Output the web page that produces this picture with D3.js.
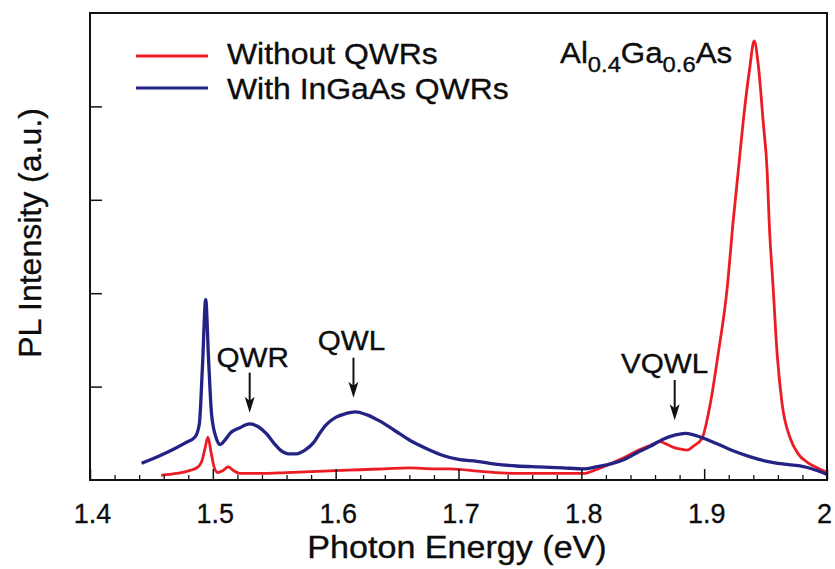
<!DOCTYPE html>
<html>
<head>
<meta charset="utf-8">
<script src="https://cdn.jsdelivr.net/npm/d3@7"></script>
<style>
  html, body { margin: 0; padding: 0; background: #fff; }
  svg { display: block; }
  text { font-family: "Liberation Sans", Arial, Helvetica, sans-serif; fill: #0d0d0d; }
</style>
</head>
<body>
<svg id="chart" width="835" height="569"></svg>
<script>
// ---- Data ----
const withQWRsX = [1.442,1.455,1.468,1.478,1.4855,1.489,1.4915,1.4942,1.4965,1.499,1.503,1.506,1.510,1.514,1.522,1.530,1.537,1.544,1.550,1.555,1.562,1.568,1.575,1.582,1.588,1.593,1.600,1.608,1.616,1.625,1.636,1.648,1.661,1.675,1.688,1.700,1.715,1.730,1.7475,1.765,1.785,1.802,1.812,1.823,1.835,1.845,1.856,1.867,1.876,1.8845,1.892,1.899,1.910,1.924,1.937,1.951,1.965,1.978,1.990,2.000];
const withQWRsY = [0.18,0.25,0.33,0.40,0.46,0.60,1.20,1.93,1.30,0.70,0.44,0.38,0.43,0.50,0.56,0.60,0.57,0.49,0.39,0.32,0.28,0.28,0.32,0.40,0.52,0.60,0.67,0.71,0.73,0.70,0.63,0.53,0.42,0.33,0.26,0.22,0.20,0.17,0.15,0.14,0.13,0.12,0.14,0.17,0.22,0.29,0.36,0.44,0.48,0.50,0.48,0.45,0.39,0.31,0.25,0.20,0.17,0.15,0.11,0.06];

const withoutQWRsX = [1.458,1.470,1.481,1.488,1.491,1.4935,1.496,1.4985,1.501,1.504,1.508,1.5125,1.517,1.522,1.540,1.560,1.580,1.600,1.620,1.640,1.660,1.680,1.693,1.720,1.7475,1.775,1.802,1.812,1.823,1.835,1.845,1.856,1.864,1.870,1.875,1.881,1.886,1.891,1.8984,1.9049,1.9114,1.9187,1.9236,1.9277,1.9318,1.937,1.9407,1.944,1.948,1.9513,1.9529,1.9562,1.9594,1.9635,1.970,1.9765,1.984,1.992,2.000];
const withoutQWRsY = [0.05,0.07,0.10,0.14,0.20,0.33,0.46,0.30,0.14,0.08,0.10,0.14,0.10,0.07,0.07,0.08,0.09,0.10,0.11,0.12,0.13,0.12,0.12,0.09,0.07,0.07,0.07,0.11,0.17,0.24,0.31,0.37,0.41,0.38,0.35,0.33,0.32,0.36,0.45,0.81,1.35,2.05,2.77,3.30,3.84,4.40,4.70,4.45,3.84,3.30,2.77,2.05,1.35,0.81,0.45,0.28,0.19,0.13,0.08];

const xTickValues = [1.4,1.5,1.6,1.7,1.8,1.9,2.0];
const xTickLabels = ["1.4","1.5","1.6","1.7","1.8","1.9","2"];
const yTickValues = [1,2,3,4];

const seriesNames = ["Without QWRs","With InGaAs QWRs"];
const seriesColors = ["#ec1c24","#232385"];

const annotations = [
  {label:"QWR",  x:1.530,  yTop:1.15, yBot:0.72, ty:1.21, dx:3},
  {label:"QWL",  x:1.6145, yTop:1.31, yBot:0.88, ty:1.39, dx:-2},
  {label:"VQWL", x:1.876,  yTop:1.07, yBot:0.64, ty:1.15, dx:-10}
];

// ---- Layout ----
const svg = d3.select("#chart");
const mLeft = 90, mRight = 827, mTop = 13, mBottom = 480;

const x = d3.scaleLinear().domain([1.4, 2.0]).range([mLeft, mRight]);
const y = d3.scaleLinear().domain([0, 5]).range([mBottom, mTop]);

// helper: text with a slight horizontal stretch (as in the scanned original)
function stretchedText(px, py, size, sx, anchor, str) {
  return svg.append("text")
    .attr("transform", `translate(${px},${py}) scale(${sx},1)`)
    .attr("text-anchor", anchor || "start")
    .attr("font-size", size)
    .attr("stroke", "#0d0d0d").attr("stroke-width", 0.35)
    .text(str);
}

// curves
const line = d3.line().x(d => x(d[0])).y(d => y(d[1])).curve(d3.curveMonotoneX);
const blueData = withQWRsX.map((v,i) => [v, withQWRsY[i]]);
const redData = withoutQWRsX.map((v,i) => [v, withoutQWRsY[i]]);

svg.append("path").datum(redData).attr("d", line)
  .attr("fill","none").attr("stroke",seriesColors[0]).attr("stroke-width",2.8).attr("stroke-linejoin","round");
svg.append("path").datum(blueData).attr("d", line)
  .attr("fill","none").attr("stroke",seriesColors[1]).attr("stroke-width",3.3).attr("stroke-linejoin","round");

// frame
svg.append("rect").attr("x",mLeft).attr("y",mTop).attr("width",mRight-mLeft).attr("height",mBottom-mTop)
  .attr("fill","none").attr("stroke","#111").attr("stroke-width",2);

// x axis ticks (inward)
const xAxis = d3.axisBottom(x).tickValues(xTickValues)
  .tickFormat((d,i) => xTickLabels[i]).tickSize(-11).tickPadding(24);
const gx = svg.append("g").attr("transform",`translate(0,${mBottom})`).call(xAxis);
gx.select(".domain").remove();
gx.selectAll(".tick line").attr("stroke","#111").attr("stroke-width",1.5);
gx.selectAll(".tick text").attr("font-size",27).attr("fill","#0d0d0d")
  .attr("stroke","#0d0d0d").attr("stroke-width",0.3)
  .attr("dx",(d,i) => i === xTickValues.length - 1 ? -3 : 2)
  .attr("font-family","'Liberation Sans', Arial, sans-serif");

const minorTicks = d3.range(1.42, 2.0, 0.02).filter(v => Math.abs(v*10 - Math.round(v*10)) > 0.01);
const xMinor = d3.axisBottom(x).tickValues(minorTicks).tickFormat("").tickSize(-5);
const gxm = svg.append("g").attr("transform",`translate(0,${mBottom})`).call(xMinor);
gxm.select(".domain").remove();
gxm.selectAll(".tick line").attr("stroke","#111").attr("stroke-width",1.3);

// y axis ticks (inward, no labels)
const yAxis = d3.axisLeft(y).tickValues(yTickValues).tickFormat("").tickSize(-12);
const gy = svg.append("g").attr("transform",`translate(${mLeft},0)`).call(yAxis);
gy.select(".domain").remove();
gy.selectAll(".tick line").attr("stroke","#111").attr("stroke-width",1.5);

// axis titles
stretchedText(457, 558, 31, 1.1, "middle", "Photon Energy (eV)");
svg.append("text").attr("transform","translate(41,233) rotate(-90)").attr("text-anchor","middle")
  .attr("stroke","#0d0d0d").attr("stroke-width",0.35)
  .attr("font-size",32).text("PL Intensity (a.u.)");

// legend
seriesNames.forEach((name,i) => {
  const ly = 56 + i*32;
  svg.append("line").attr("x1",136).attr("x2",208).attr("y1",ly).attr("y2",ly)
    .attr("stroke",seriesColors[i]).attr("stroke-width",3);
  stretchedText(227, ly + 8 + i*3, 29, 1.1, "start", name);
});

// material label
const mat = svg.append("text").attr("transform","translate(560,63) scale(1.08,1)")
  .attr("font-size",29).attr("stroke","#0d0d0d").attr("stroke-width",0.35);
mat.append("tspan").text("Al");
mat.append("tspan").attr("font-size",22).attr("dy",9).text("0.4");
mat.append("tspan").attr("dy",-9).text("Ga");
mat.append("tspan").attr("font-size",22).attr("dy",9).text("0.6");
mat.append("tspan").attr("dy",-9).text("As");

// annotations with arrows
annotations.forEach(a => {
  const ax = x(a.x);
  stretchedText(ax + a.dx, y(a.ty), 28, 1.06, "middle", a.label);
  const y1 = y(a.yTop), y2 = y(a.yBot);
  svg.append("line").attr("x1",ax).attr("x2",ax).attr("y1",y1).attr("y2",y2-6)
    .attr("stroke","#111").attr("stroke-width",2);
  svg.append("path")
    .attr("d",`M${ax-5},${y2-16} L${ax},${y2} L${ax+5},${y2-16} L${ax},${y2-12} Z`)
    .attr("fill","#111");
});
</script>
</body>
</html>
